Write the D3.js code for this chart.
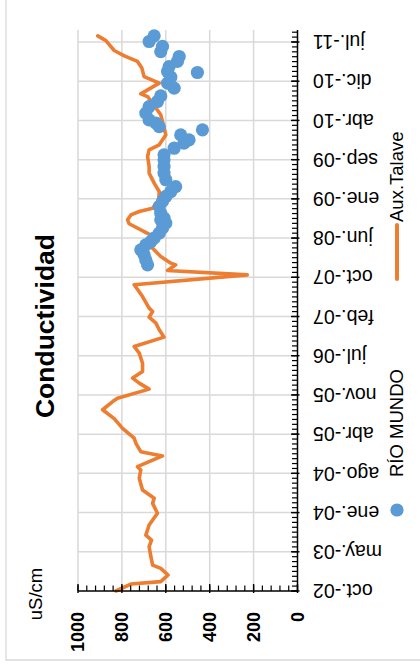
<!DOCTYPE html>
<html><head><meta charset="utf-8">
<script src="https://cdn.jsdelivr.net/npm/d3@7"></script>
<style>body{margin:0;background:#fff}svg{display:block}text{font-family:"Liberation Sans",Arial,sans-serif;fill:#000}</style>
</head><body><svg id="c" width="420" height="665"></svg>
<script>
// ---- data ----
const dateTickLabels = ["oct.-02","may.-03","ene.-04","ago.-04","abr.-05","nov.-05","jul.-06","feb.-07","oct.-07","jun.-08","ene.-09","sep.-09","abr.-10","dic.-10","jul.-11"];
const valueTicks = [0,200,400,600,800,1000];
const seriesNames = ["RÍO MUNDO","Aux.Talave"];

const talaveDates = ["2002-10-01","2002-11-11","2002-11-25","2003-01-03","2003-02-11","2003-03-02","2003-04-20","2003-06-18","2003-07-27","2003-08-25","2003-10-23","2003-12-31","2004-02-27","2004-03-28","2004-05-15","2004-07-23","2004-09-10","2004-09-29","2004-12-01","2004-12-26","2005-02-13","2005-03-15","2005-05-12","2005-07-08","2005-08-29","2005-10-16","2005-11-05","2005-12-28","2006-02-01","2006-03-03","2006-04-10","2006-05-29","2006-07-27","2006-09-04","2006-10-29","2006-12-11","2007-01-19","2007-02-23","2007-03-28","2007-04-17","2007-06-24","2007-09-01","2007-10-29","2007-11-24","2007-12-27","2008-01-06","2008-02-14","2008-04-03","2008-06-20","2008-08-24","2008-09-16","2008-10-15","2008-11-04","2008-11-23","2009-01-11","2009-03-01","2009-04-19","2009-06-17","2009-07-26","2009-09-22","2009-10-31","2009-11-30","2010-01-27","2010-05-25","2010-09-09","2010-09-25","2010-11-27","2011-01-04","2011-02-23","2011-04-03","2011-05-06","2011-06-06","2011-08-03","2011-08-31"];
const talaveValues = [827,759,623,590,623,660,668,676,665,691,676,638,660,653,706,721,714,729,615,714,736,744,797,835,888,842,820,676,721,751,706,706,721,744,608,630,645,676,660,676,706,744,229,592,555,577,623,660,670,767,774,759,721,660,632,630,653,676,676,683,676,630,600,623,683,714,630,699,709,729,789,835,873,910];

const mundoDates = ["2007-12-27","2008-01-25","2008-02-24","2008-03-24","2008-04-22","2008-05-12","2008-06-01","2008-06-30","2008-07-29","2008-08-28","2008-09-16","2008-09-26","2008-10-25","2008-12-03","2009-01-02","2009-01-31","2009-03-01","2009-03-30","2009-05-09","2009-06-17","2009-07-26","2009-09-03","2009-10-02","2009-11-10","2009-12-10","2009-12-29","2010-01-27","2010-02-26","2010-03-17","2010-04-06","2010-04-25","2010-06-04","2010-07-12","2010-08-11","2010-09-13","2010-10-28","2010-11-27","2011-01-01","2011-01-28","2011-02-03","2011-03-04","2011-04-03","2011-05-02","2011-05-31","2011-06-30","2011-07-29","2011-08-31"];
const mundoValues = [683,691,699,714,691,668,653,630,615,600,623,608,623,630,615,600,577,555,600,608,608,608,608,562,517,494,532,433,630,645,676,691,676,638,623,562,592,577,456,592,585,547,539,623,615,676,653];

// ---- setup ----
const parse = d3.utcParse("%Y-%m-%d");
const start = parse("2002-10-01");
const majorDays = 230, minorDays = 230/8, extraDays = 3290;
const end = d3.utcDay.offset(start, extraDays);
const svg = d3.select("#c");
const ORANGE = "#ED7D31", BLUE = "#5B9BD5", GRID = "#d9d9d9";

const x = d3.scaleLinear().domain([0,1000]).range([297.5, 78]);
const y = d3.scaleUtc().domain([start, end]).range([591, 591 - extraDays*549/3220]);

// chart border
svg.append("path").attr("d","M6,-5V660H430").attr("fill","none").attr("stroke",GRID).attr("stroke-width",1.3);

const majorDates = dateTickLabels.map((l,i)=>d3.utcDay.offset(start, i*majorDays));
const dayMs = 86400000;
const minorDates = d3.range(0, extraDays, minorDays).map(d=>new Date(start.getTime()+d*dayMs));

// gridlines
const g = svg.append("g");
g.selectAll(".vg").data(valueTicks.filter(v=>v>0)).join("line")
  .attr("x1",d=>x(d)).attr("x2",d=>x(d)).attr("y1",y.range()[1]).attr("y2",591)
  .attr("stroke",GRID).attr("stroke-width",1.5);
g.selectAll(".hg").data(majorDates.slice(1)).join("line")
  .attr("y1",d=>y(d)).attr("y2",d=>y(d)).attr("x1",78).attr("x2",297.5)
  .attr("stroke",GRID).attr("stroke-width",1.5);

// series: line
const line = d3.line().x((d,i)=>x(talaveValues[i])).y((d,i)=>y(parse(d)));
svg.append("path").datum(talaveDates).attr("d",line).attr("fill","none")
  .attr("stroke",ORANGE).attr("stroke-width",3.6).attr("stroke-linejoin","round").attr("stroke-linecap","round");

// series: points
svg.append("g").selectAll("circle").data(mundoDates).join("circle")
  .attr("cx",(d,i)=>x(mundoValues[i])).attr("cy",d=>y(parse(d))).attr("r",6.6).attr("fill",BLUE);

// value axis (bottom on screen)
const ax = svg.append("g");
ax.append("line").attr("x1",78).attr("x2",297.5).attr("y1",591).attr("y2",591).attr("stroke","#000").attr("stroke-width",1.5);
ax.selectAll(".mn").data(d3.range(0,1001,40)).join("line")
  .attr("x1",d=>x(d)).attr("x2",d=>x(d)).attr("y1",591).attr("y2",585.5).attr("stroke","#000").attr("stroke-width",1.2);
ax.selectAll(".mj").data(valueTicks).join("line")
  .attr("x1",d=>x(d)).attr("x2",d=>x(d)).attr("y1",593).attr("y2",584).attr("stroke","#000").attr("stroke-width",1.4);
ax.selectAll("text").data(valueTicks).join("text")
  .attr("transform",d=>`translate(${x(d)},612) rotate(-90)`)
  .attr("text-anchor","end").attr("dy","0.35em")
  .style("font-size","18px").style("font-weight","bold").text(d=>d);

// date axis (right on screen)
const ay = svg.append("g");
ay.append("line").attr("x1",297.5).attr("x2",297.5).attr("y1",y.range()[1]).attr("y2",591).attr("stroke","#000").attr("stroke-width",1.5);
ay.selectAll(".mn").data(minorDates).join("line")
  .attr("y1",d=>y(d)).attr("y2",d=>y(d)).attr("x1",297.5).attr("x2",292).attr("stroke","#000").attr("stroke-width",1.2);
ay.selectAll(".mj").data(majorDates).join("line")
  .attr("y1",d=>y(d)).attr("y2",d=>y(d)).attr("x1",299.5).attr("x2",291).attr("stroke","#000").attr("stroke-width",1.4);
ay.selectAll("text").data(majorDates).join("text")
  .attr("transform",d=>`translate(313,${y(d)}) rotate(180)`)
  .attr("text-anchor","end").attr("dy","0.35em")
  .style("font-size","19.5px").text((d,i)=>dateTickLabels[i]);

// title & axis title
svg.append("text").attr("transform","translate(45,326) rotate(-90)").attr("text-anchor","middle").attr("dy","0.35em")
  .style("font-size","26.5px").style("font-weight","bold").text("Conductividad");
svg.append("text").attr("transform","translate(36,594) rotate(-90)").attr("text-anchor","middle").attr("dy","0.35em")
  .style("font-size","18.5px").text("uS/cm");

// legend
const lg = svg.append("g");
lg.append("circle").attr("cx",397).attr("cy",510).attr("r",6.6).attr("fill",BLUE);
lg.append("text").attr("transform","translate(397,477) rotate(-90)").attr("dy","0.35em").style("font-size","18.5px").text(seriesNames[0]);
lg.append("line").attr("x1",397).attr("x2",397).attr("y1",225).attr("y2",279).attr("stroke",ORANGE).attr("stroke-width",4).attr("stroke-linecap","round");
lg.append("text").attr("transform","translate(397,222) rotate(-90)").attr("dy","0.35em").style("font-size","18.5px").text(seriesNames[1]);
</script></body></html>
